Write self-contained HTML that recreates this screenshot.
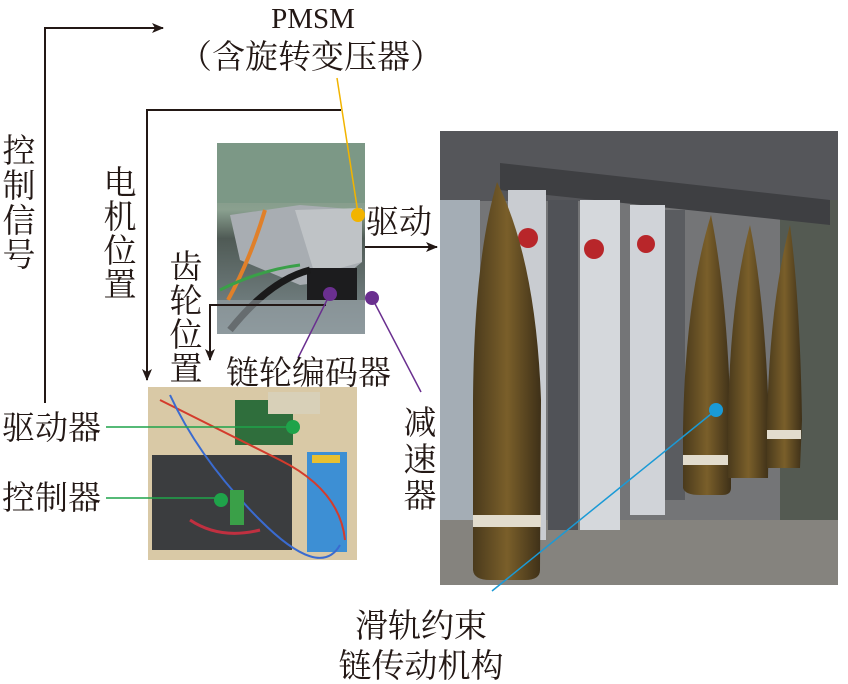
<!DOCTYPE html>
<html><head><meta charset="utf-8"><style>
html,body{margin:0;padding:0;background:#fff;}
svg{display:block}
text{font-family:"Liberation Serif","Noto Serif CJK SC",serif;fill:#231815;}
.c{font-family:"Liberation Serif","Noto Serif CJK SC",serif;font-size:33px;}
</style></head><body>
<svg width="848" height="684" viewBox="0 0 848 684" xmlns="http://www.w3.org/2000/svg">
<defs>
<marker id="ar" viewBox="0 0 12 10" refX="11" refY="5" markerWidth="12" markerHeight="10" markerUnits="userSpaceOnUse" orient="auto"><path d="M0,0 L12,5 L0,10 L3,5 z" fill="#231815"/></marker>
<linearGradient id="shell" x1="0" x2="1"><stop offset="0" stop-color="#4a3a1c"/><stop offset="0.5" stop-color="#7a5f2a"/><stop offset="1" stop-color="#3e3018"/></linearGradient>
<linearGradient id="topbg" x1="0" y1="0" x2="0" y2="1"><stop offset="0" stop-color="#6f8a78"/><stop offset="0.35" stop-color="#8aa08f"/><stop offset="0.5" stop-color="#4f5a55"/><stop offset="1" stop-color="#7e8c90"/></linearGradient>
</defs>

<!-- Top photo (motor) -->
<rect x="217" y="143" width="148" height="191" fill="url(#topbg)"/>
<rect x="217" y="143" width="148" height="60" fill="#7c9886"/>
<polygon points="230,215 300,205 362,210 362,262 340,280 300,285 240,260" fill="#a8adb2"/>
<polygon points="295,210 362,208 362,262 315,275" fill="#bfc3c6"/>
<rect x="307" y="268" width="50" height="32" fill="#1c1c1e"/>
<path d="M265,210 Q250,260 228,300" stroke="#e0802a" stroke-width="4" fill="none"/>
<path d="M220,290 Q260,270 300,265" stroke="#3aa048" stroke-width="3" fill="none"/>
<path d="M230,330 Q270,280 310,270" stroke="#1a1a1a" stroke-width="7" fill="none"/>
<rect x="217" y="300" width="148" height="34" fill="#9aa4a8" opacity="0.6"/>

<!-- Bottom-left photo (control box) -->
<rect x="148" y="387" width="209" height="173" fill="#d9c9a6"/>
<rect x="152" y="455" width="140" height="95" fill="#3b3d3f"/>
<rect x="235" y="400" width="58" height="45" fill="#2f6e3c"/>
<rect x="268" y="392" width="52" height="22" fill="#d8d0b8"/>
<rect x="307" y="452" width="40" height="100" fill="#3d8fd4"/>
<rect x="312" y="455" width="28" height="8" fill="#e8c030"/>
<path d="M160,400 Q220,430 280,460 T345,540" stroke="#d43b2c" stroke-width="2" fill="none"/>
<path d="M170,395 Q200,460 260,520 T340,545" stroke="#3a6bd0" stroke-width="2" fill="none"/>
<path d="M190,520 Q220,540 260,530" stroke="#c03040" stroke-width="3" fill="none"/>
<rect x="230" y="490" width="14" height="35" fill="#3aa048"/>

<!-- Right photo -->
<rect x="440" y="131" width="398" height="454" fill="#747577"/>
<rect x="440" y="131" width="398" height="70" fill="#55565a"/>
<rect x="440" y="200" width="40" height="330" fill="#a4adb5"/>
<rect x="780" y="200" width="58" height="385" fill="#545a52"/>
<rect x="440" y="520" width="398" height="65" fill="#85837e"/>
<polygon points="500,163 830,200 830,225 500,190" fill="#3e3f42"/>
<rect x="508" y="190" width="38" height="350" fill="#c9ccd1"/>
<rect x="580" y="200" width="40" height="330" fill="#d5d8dc"/>
<rect x="630" y="205" width="35" height="310" fill="#d0d3d8"/>
<rect x="548" y="200" width="30" height="330" fill="#505257"/>
<rect x="665" y="210" width="20" height="290" fill="#5a5c60"/>
<circle cx="528" cy="238" r="10" fill="#b8262a"/>
<circle cx="594" cy="249" r="10" fill="#b8262a"/>
<circle cx="646" cy="244" r="9" fill="#b8262a"/>
<path d="M497,182 Q474,260 473,400 L473,570 Q474,580 490,580 L525,580 Q540,580 540,570 L541,400 Q536,260 497,182 z" fill="url(#shell)"/>
<rect x="473" y="515" width="68" height="12" fill="#e2dccd"/>
<path d="M711,215 Q685,300 683,430 L683,488 Q685,495 700,495 L722,495 Q731,495 731,488 L731,430 Q728,300 711,215 z" fill="url(#shell)"/>
<rect x="683" y="455" width="48" height="10" fill="#e2dccd"/>
<path d="M750,225 Q730,300 728,420 L728,478 L768,478 L769,420 Q765,300 750,225 z" fill="url(#shell)"/>
<path d="M790,225 Q770,300 767,420 L767,468 L800,468 L802,420 Q800,300 790,225 z" fill="url(#shell)"/>
<rect x="767" y="430" width="34" height="9" fill="#e2dccd"/>

<!-- connector lines -->
<path d="M45,403 V28 H163" stroke="#231815" stroke-width="2" fill="none" marker-end="url(#ar)"/>
<path d="M341,110 H147 V380" stroke="#231815" stroke-width="2" fill="none" marker-end="url(#ar)"/>
<path d="M326,305 H210 V360" stroke="#231815" stroke-width="2" fill="none" marker-end="url(#ar)"/>
<path d="M365,247 H437" stroke="#231815" stroke-width="2" fill="none" marker-end="url(#ar)"/>

<line x1="337" y1="78" x2="358" y2="213" stroke="#f2b400" stroke-width="1.5"/>
<circle cx="358" cy="215" r="7" fill="#f2b400"/>
<line x1="330" y1="294" x2="298" y2="358" stroke="#6a2f8f" stroke-width="1.5"/>
<circle cx="330" cy="294" r="7" fill="#6a2f8f"/>
<line x1="372" y1="298" x2="421" y2="392" stroke="#6a2f8f" stroke-width="1.5"/>
<circle cx="372" cy="298" r="7" fill="#6a2f8f"/>
<line x1="106" y1="427" x2="293" y2="427" stroke="#1fa34a" stroke-width="1.5"/>
<circle cx="293" cy="427" r="7" fill="#1fa34a"/>
<line x1="106" y1="498" x2="221" y2="498" stroke="#1fa34a" stroke-width="1.5"/>
<circle cx="221" cy="500" r="7" fill="#1fa34a"/>
<line x1="716" y1="410" x2="492" y2="591" stroke="#1a9ad6" stroke-width="1.5"/>
<circle cx="716" cy="410" r="7" fill="#1a9ad6"/>

<!-- labels -->
<text x="313" y="28" font-size="29" text-anchor="middle">PMSM</text>
<text x="311" y="68" class="c" text-anchor="middle" font-size="32">（含旋转变压器）</text>
<g class="c" text-anchor="middle">
<text x="19" y="162">控</text><text x="19" y="197">制</text><text x="19" y="232">信</text><text x="19" y="266">号</text>
<text x="120" y="194">电</text><text x="120" y="228">机</text><text x="120" y="262">位</text><text x="120" y="296">置</text>
<text x="186" y="278">齿</text><text x="186" y="312">轮</text><text x="186" y="346">位</text><text x="186" y="380">置</text>
<text x="420" y="434">减</text><text x="420" y="471">速</text><text x="420" y="507">器</text>
</g>
<text x="366" y="233" class="c">驱动</text>
<text x="226" y="384" class="c">链轮编码器</text>
<text x="2" y="439" class="c">驱动器</text>
<text x="2" y="509" class="c">控制器</text>
<text x="421" y="637" class="c" text-anchor="middle" font-size="34">滑轨约束</text>
<text x="421" y="677" class="c" text-anchor="middle" font-size="34">链传动机构</text>
</svg>
</body></html>
